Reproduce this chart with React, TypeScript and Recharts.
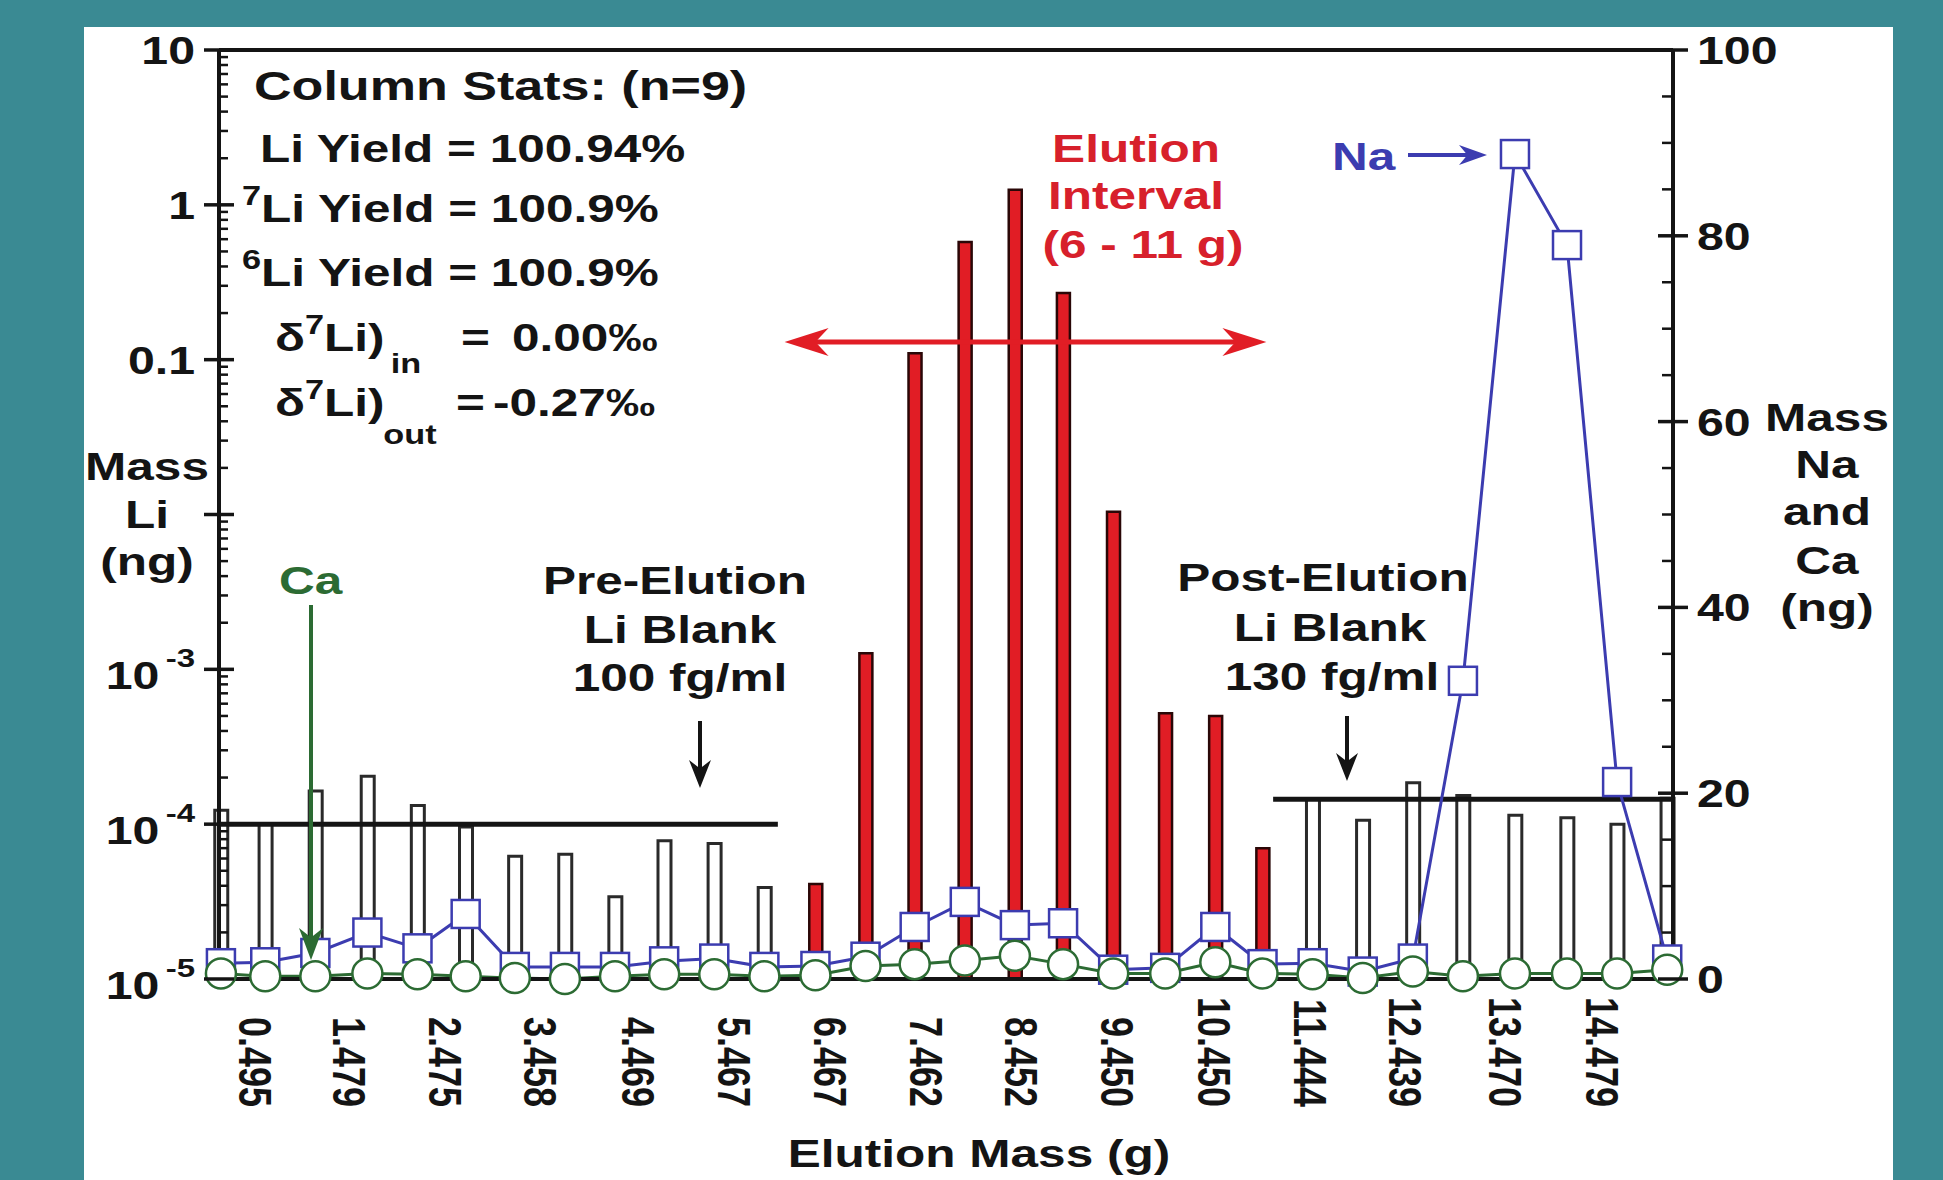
import React from "react";
import { Bar, Cell, ComposedChart, Line, ReferenceLine, XAxis, YAxis } from "recharts";

// elution mass of each collected fraction (g) and what was measured in it
const fractionMass = [
  0.15, 0.61, 1.13, 1.67, 2.19, 2.69, 3.2, 3.72, 4.24, 4.75, 5.27, 5.79, 6.32, 6.84, 7.35,
  7.87, 8.39, 8.89, 9.41, 9.95, 10.47, 10.96, 11.48, 12.0, 12.52, 13.04, 13.58, 14.12, 14.64, 15.16,
];
const liMass = [
  1.23e-4, 1.0e-4, 1.64e-4, 2.04e-4, 1.32e-4, 9.6e-5, 6.2e-5, 6.4e-5, 3.4e-5, 7.8e-5, 7.5e-5, 3.9e-5,
  4.1e-5, 1.27e-3, 0.11, 0.575, 1.25, 0.27, 0.0104, 5.2e-4, 5.0e-4, 7.0e-5,
  1.45e-4, 1.06e-4, 1.85e-4, 1.53e-4, 1.14e-4, 1.1e-4, 1.0e-4, 1.47e-4,
];
const naMass = [
  1.7, 1.8, 2.8, 5.0, 3.3, 7.0, 1.3, 1.3, 1.3, 1.9, 2.2, 1.3, 1.4, 2.4, 5.6,
  8.3, 5.8, 6.0, 1.0, 1.2, 5.6, 1.6, 1.7, 0.8, 2.2, 32.1, 88.8, 79.0, 21.2, 2.1,
];
const caMass = [
  0.6, 0.3, 0.3, 0.6, 0.5, 0.3, 0.1, 0.0, 0.3, 0.5, 0.5, 0.3, 0.4, 1.4, 1.6,
  2.0, 2.5, 1.6, 0.6, 0.6, 1.8, 0.6, 0.5, 0.1, 0.8, 0.3, 0.6, 0.6, 0.6, 1.0,
];

const massTickLabels = [
  "0.495", "1.479", "2.475", "3.458", "4.469", "5.467", "6.467", "7.462",
  "8.452", "9.450", "10.450", "11.444", "12.439", "13.470", "14.479",
];
const massTicks = massTickLabels.map(Number);

const liMajorTicks = [1e-5, 1e-4, 1e-3, 1e-2, 0.1, 1, 10];
const liTickText = ["10", "10", "10", "", "0.1", "1", "10"];
const liTickExp = ["-5", "-4", "-3", "", "", "", ""];
const naMajorTicks = [0, 20, 40, 60, 80, 100];

const elutionInterval = [6, 11];
const elutionArrowLevel = 0.13;
const preBlank = { from: 0.13, to: 5.93, level: 1.0e-4 };
const postBlank = { from: 11.07, to: 15.22, level: 1.45e-4 };
const xDomain: [number, number] = [0.13, 15.22];

const W = 1943;
const H = 1180;
const SX = 1.27; // the figure is stretched sideways
const FONT = "'Liberation Sans', Arial, Helvetica, sans-serif";
const INK = "#141414";
const TEAL = "#3a8a93";
const NA_BLUE = "#3c3cb0";
const CA_GREEN = "#2c6b33";
const LI_RED = "#e11d25";
const TXT_RED = "#d7202b";

const liTicks = liMajorTicks.flatMap((t, i) =>
  i === liMajorTicks.length - 1 ? [t] : [t, ...[2, 3, 4, 5, 6, 7, 8, 9].map((m) => m * t)],
);
const naTicks = Array.from({ length: 21 }, (_, i) => i * 5);

const rows = fractionMass.map((m, i) => ({ mass: m, li: liMass[i], na: naMass[i], ca: caMass[i] }));
const inElution = (m: number) => m >= elutionInterval[0] && m <= elutionInterval[1];

function headPoints(tx: number, ty: number, dx: number, dy: number, len: number, half: number) {
  const nx = -dy;
  const ny = dx;
  const bx = tx - dx * len;
  const by = ty - dy * len;
  const mx = tx - dx * len * 0.7;
  const my = ty - dy * len * 0.7;
  return `${tx},${ty} ${bx + nx * half},${by + ny * half} ${mx},${my} ${bx - nx * half},${by - ny * half}`;
}

function Arrow({ x1, y1, x2, y2, color, w = 4, len = 30, half = 11 }: any) {
  const L = Math.hypot(x2 - x1, y2 - y1);
  const dx = (x2 - x1) / L;
  const dy = (y2 - y1) / L;
  return (
    <g>
      <line x1={x1} y1={y1} x2={x2 - dx * len * 0.6} y2={y2 - dy * len * 0.6} stroke={color} strokeWidth={w} />
      <polygon points={headPoints(x2, y2, dx, dy, len, half)} fill={color} />
    </g>
  );
}

function ElutionArrow(p: any) {
  const { x1, y1, x2, y2 } = p;
  return (
    <g>
      <line x1={x1 + 25} y1={y1} x2={x2 - 25} y2={y2} stroke={LI_RED} strokeWidth={5} />
      <polygon points={headPoints(x1, y1, -1, 0, 44, 14)} fill={LI_RED} />
      <polygon points={headPoints(x2, y2, 1, 0, 44, 14)} fill={LI_RED} />
    </g>
  );
}

function SText({ x, y, anchor = "start", size = 39, fill = INK, children }: any) {
  return (
    <text
      transform={`translate(${x},${y}) scale(${SX},1)`}
      textAnchor={anchor}
      fontSize={size}
      fontWeight={700}
      fontFamily={FONT}
      fill={fill}
    >
      {children}
    </text>
  );
}

function LiTick(props: any) {
  const { x, y, payload } = props;
  const i = liMajorTicks.findIndex((t) => Math.abs(t - payload.value) <= t * 1e-6);
  if (i < 0) return <line x1={x} x2={x + 9} y1={y} y2={y} stroke={INK} strokeWidth={2.5} />;
  const exp = liTickExp[i];
  return (
    <g>
      <line x1={x - 15} x2={x + 15} y1={y} y2={y} stroke={INK} strokeWidth={3.5} />
      {liTickText[i] ? (
        <text
          transform={`translate(${x - 24},${y + (exp ? 20 : 14)}) scale(${SX},1)`}
          textAnchor="end"
          fontSize={38}
          fontWeight={700}
          fontFamily={FONT}
          fill={INK}
        >
          {liTickText[i]}
          {exp ? (
            <tspan fontSize={26} dy={-22} dx={5}>
              {exp}
            </tspan>
          ) : null}
        </text>
      ) : null}
    </g>
  );
}

function NaTick(props: any) {
  const { x, y, payload } = props;
  if (!naMajorTicks.includes(payload.value)) {
    return <line x1={x - 11} x2={x} y1={y} y2={y} stroke={INK} strokeWidth={2.5} />;
  }
  return (
    <g>
      <line x1={x - 15} x2={x + 15} y1={y} y2={y} stroke={INK} strokeWidth={3.5} />
      <text
        transform={`translate(${x + 24},${y + 14}) scale(${SX},1)`}
        fontSize={38}
        fontWeight={700}
        fontFamily={FONT}
        fill={INK}
      >
        {payload.value}
      </text>
    </g>
  );
}

function MassTick(props: any) {
  const { x, y, index, payload } = props;
  return (
    <text
      transform={`translate(${x},${y + 128}) scale(${SX},1) rotate(90)`}
      textAnchor="end"
      dominantBaseline="central"
      fontSize={36}
      fontWeight={700}
      fontFamily={FONT}
      fill={INK}
    >
      {massTickLabels[index] ?? String(payload.value)}
    </text>
  );
}

function SquareDot(p: any) {
  if (p.cx == null || p.cy == null) return <g key={`na-${p.index}`} />;
  return (
    <rect
      key={`na-${p.index}`}
      x={p.cx - 14}
      y={p.cy - 14}
      width={28}
      height={28}
      fill="#fff"
      stroke={NA_BLUE}
      strokeWidth={2.5}
    />
  );
}

function CircleDot(p: any) {
  if (p.cx == null || p.cy == null) return <g key={`ca-${p.index}`} />;
  return <circle key={`ca-${p.index}`} cx={p.cx} cy={p.cy} r={15} fill="#fff" stroke={CA_GREEN} strokeWidth={2.5} />;
}

function Annotations() {
  return (
    <svg width={W} height={H} style={{ position: "absolute", left: 0, top: 0, pointerEvents: "none" }}>
      <SText x={254} y={100} size={41}>Column Stats: (n=9)</SText>
      <SText x={260} y={162}>Li Yield = 100.94%</SText>
      <SText x={242} y={222}>
        <tspan fontSize={27} dy={-17}>7</tspan>
        <tspan dy={17}>Li Yield = 100.9%</tspan>
      </SText>
      <SText x={242} y={286}>
        <tspan fontSize={27} dy={-17}>6</tspan>
        <tspan dy={17}>Li Yield = 100.9%</tspan>
      </SText>
      <SText x={275} y={351}>
        δ<tspan fontSize={27} dy={-17}>7</tspan>
        <tspan dy={17}>Li)</tspan>
      </SText>
      <SText x={406} y={373} size={27} anchor="middle">in</SText>
      <SText x={461} y={351}>=</SText>
      <SText x={512} y={351}>0.00‰</SText>
      <SText x={275} y={416}>
        δ<tspan fontSize={27} dy={-17}>7</tspan>
        <tspan dy={17}>Li)</tspan>
      </SText>
      <SText x={410} y={444} size={27} anchor="middle">out</SText>
      <SText x={456} y={416}>=</SText>
      <SText x={493} y={416}>-0.27‰</SText>

      <SText x={1136} y={162} anchor="middle" fill={TXT_RED}>Elution</SText>
      <SText x={1136} y={209} anchor="middle" fill={TXT_RED}>Interval</SText>
      <SText x={1143} y={258} anchor="middle" fill={TXT_RED}>(6 - 11 g)</SText>

      <SText x={1332} y={170} fill={NA_BLUE}>Na</SText>
      <Arrow x1={1408} y1={155} x2={1487} y2={155} color={NA_BLUE} w={4} len={28} half={10} />

      <SText x={279} y={594} fill={CA_GREEN}>Ca</SText>
      <Arrow x1={311} y1={605} x2={311} y2={960} color={CA_GREEN} w={4} len={32} half={12} />

      <SText x={675} y={594} anchor="middle">Pre-Elution</SText>
      <SText x={680} y={643} anchor="middle">Li Blank</SText>
      <SText x={680} y={691} anchor="middle">100 fg/ml</SText>
      <Arrow x1={700} y1={721} x2={700} y2={788} color={INK} w={4} len={28} half={11} />

      <SText x={1323} y={591} anchor="middle">Post-Elution</SText>
      <SText x={1330} y={641} anchor="middle">Li Blank</SText>
      <SText x={1332} y={690} anchor="middle">130 fg/ml</SText>
      <Arrow x1={1347} y1={716} x2={1347} y2={781} color={INK} w={4} len={28} half={11} />

      <SText x={147} y={480} anchor="middle">Mass</SText>
      <SText x={147} y={528} anchor="middle">Li</SText>
      <SText x={147} y={575} anchor="middle">(ng)</SText>

      <SText x={1827} y={431} anchor="middle">Mass</SText>
      <SText x={1827} y={478} anchor="middle">Na</SText>
      <SText x={1827} y={525} anchor="middle">and</SText>
      <SText x={1827} y={574} anchor="middle">Ca</SText>
      <SText x={1827} y={621} anchor="middle">(ng)</SText>

      <SText x={979} y={1167} anchor="middle">Elution Mass (g)</SText>
    </svg>
  );
}

export default function App() {
  return (
    <div style={{ position: "fixed", left: 0, top: 0, width: W, height: H, background: TEAL, overflow: "hidden" }}>
      <div style={{ position: "absolute", left: 84, top: 27, width: 1809, height: H - 27, background: "#fff" }} />
      <div style={{ position: "absolute", left: 0, top: 0 }}>
        <ComposedChart width={W} height={H} data={rows} margin={{ top: 50, right: 150, bottom: 51, left: 99 }}>
          <XAxis
            dataKey="mass"
            type="number"
            domain={xDomain}
            ticks={massTicks}
            interval={0}
            tick={<MassTick />}
            tickLine={false}
            tickSize={0}
            tickMargin={0}
            axisLine={{ stroke: INK, strokeWidth: 4 }}
            height={150}
          />
          <YAxis
            yAxisId="li"
            orientation="left"
            type="number"
            scale="log"
            domain={[1e-5, 10]}
            allowDataOverflow
            ticks={liTicks}
            interval={0}
            tick={<LiTick />}
            tickLine={false}
            tickSize={0}
            tickMargin={0}
            axisLine={{ stroke: INK, strokeWidth: 4 }}
            width={120}
          />
          <YAxis
            yAxisId="na"
            orientation="right"
            type="number"
            domain={[0, 100]}
            ticks={naTicks}
            interval={0}
            tick={<NaTick />}
            tickLine={false}
            tickSize={0}
            tickMargin={0}
            axisLine={{ stroke: INK, strokeWidth: 4 }}
            width={120}
          />
          <ReferenceLine yAxisId="li" y={10} stroke={INK} strokeWidth={4} ifOverflow="visible" />
          <Bar yAxisId="li" dataKey="li" barSize={13} isAnimationActive={false}>
            {rows.map((r, i) =>
              inElution(r.mass) ? (
                <Cell key={i} fill={LI_RED} stroke="#2a0707" strokeWidth={2.5} />
              ) : (
                <Cell key={i} fill="#fff" stroke="#2a2a2a" strokeWidth={3} />
              ),
            )}
          </Bar>
          <ReferenceLine
            yAxisId="li"
            segment={[
              { x: preBlank.from, y: preBlank.level },
              { x: preBlank.to, y: preBlank.level },
            ]}
            stroke={INK}
            strokeWidth={5}
            ifOverflow="visible"
          />
          <ReferenceLine
            yAxisId="li"
            segment={[
              { x: postBlank.from, y: postBlank.level },
              { x: postBlank.to, y: postBlank.level },
            ]}
            stroke={INK}
            strokeWidth={5}
            ifOverflow="visible"
          />
          <ReferenceLine
            yAxisId="li"
            segment={[
              { x: elutionInterval[0], y: elutionArrowLevel },
              { x: elutionInterval[1], y: elutionArrowLevel },
            ]}
            shape={(p: any) => <ElutionArrow {...p} />}
            ifOverflow="visible"
          />
          <Line
            yAxisId="na"
            dataKey="na"
            type="linear"
            stroke={NA_BLUE}
            strokeWidth={3}
            dot={(p: any) => <SquareDot {...p} key={`na-${p.index}`} />}
            activeDot={false}
            isAnimationActive={false}
          />
          <Line
            yAxisId="na"
            dataKey="ca"
            type="linear"
            stroke={CA_GREEN}
            strokeWidth={3}
            dot={(p: any) => <CircleDot {...p} key={`ca-${p.index}`} />}
            activeDot={false}
            isAnimationActive={false}
          />
        </ComposedChart>
      </div>
      <Annotations />
    </div>
  );
}
